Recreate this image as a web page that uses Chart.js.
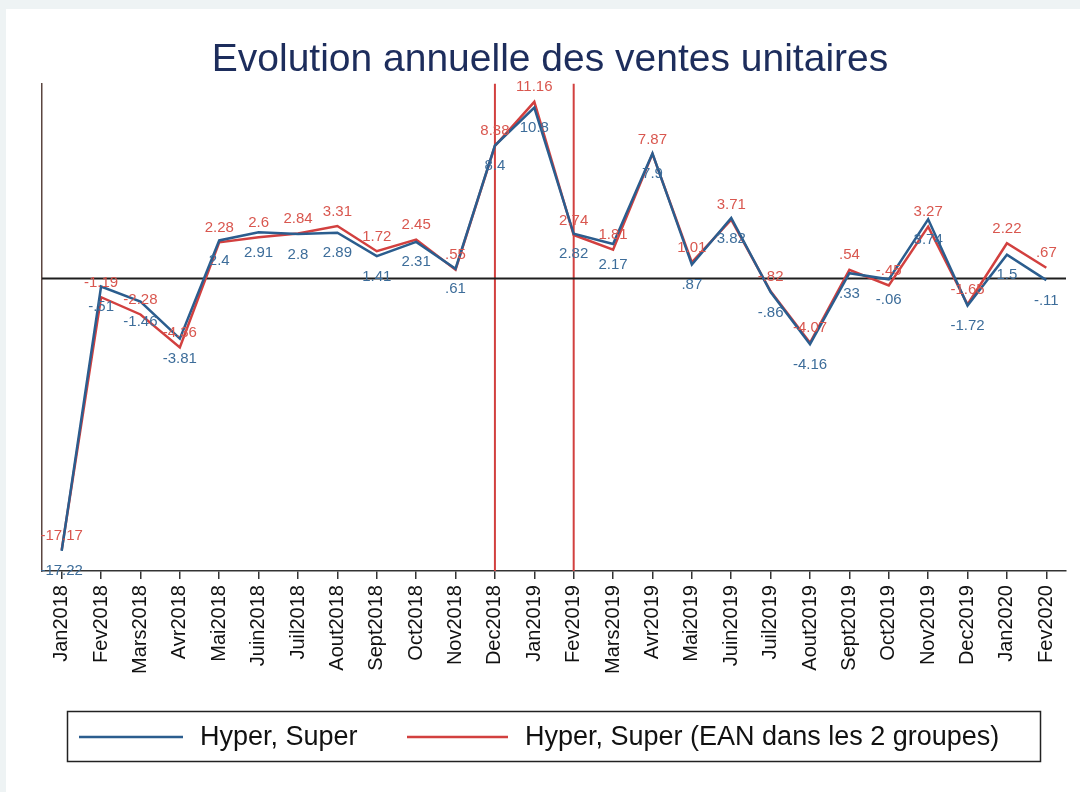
<!DOCTYPE html>
<html>
<head>
<meta charset="utf-8">
<script src="https://cdn.jsdelivr.net/npm/chart.js@4.4.1/dist/chart.umd.min.js"></script>
<style>
  html, body { margin: 0; padding: 0; background: #ffffff; }
  #wrap { width: 1080px; height: 792px; }
</style>
</head>
<body>
<div id="wrap"><canvas id="c" width="1080" height="792"></canvas></div>
<script>
const categories = ["Jan2018","Fev2018","Mars2018","Avr2018","Mai2018","Juin2018","Juil2018","Aout2018","Sept2018","Oct2018","Nov2018","Dec2018","Jan2019","Fev2019","Mars2019","Avr2019","Mai2019","Juin2019","Juil2019","Aout2019","Sept2019","Oct2019","Nov2019","Dec2019","Jan2020","Fev2020"];
const hyperSuper = [-17.22,-0.51,-1.46,-3.81,2.4,2.91,2.8,2.89,1.41,2.31,0.61,8.4,10.8,2.82,2.17,7.9,0.87,3.82,-0.86,-4.16,0.33,-0.06,3.74,-1.72,1.5,-0.11];
const hyperSuperEAN = [-17.17,-1.19,-2.28,-4.36,2.28,2.6,2.84,3.31,1.72,2.45,0.55,8.38,11.16,2.74,1.81,7.87,1.01,3.71,-0.82,-4.07,0.54,-0.45,3.27,-1.65,2.22,0.67];
const seriesNames = ["Hyper, Super", "Hyper, Super (EAN dans les 2 groupes)"];
const markerCategories = ["Dec2018", "Fev2019"];
const zeroValue = 0;

const BLUE = "#2b5d8e";
const RED = "#d2403f";

function fmt(v) {
  let s = String(Math.round(v * 100) / 100);
  s = s.replace(/^0\./, ".").replace(/^-0\./, "-.");
  return s;
}

const bgPlugin = {
  id: "bg",
  beforeDraw(chart) {
    const ctx = chart.ctx;
    ctx.save();
    ctx.fillStyle = "#eef3f4";
    ctx.fillRect(0, 0, chart.width, chart.height);
    ctx.fillStyle = "#ffffff";
    ctx.fillRect(6, 9, chart.width - 6, chart.height - 9);
    ctx.restore();
  }
};

const refLines = {
  id: "refLines",
  beforeDatasetsDraw(chart) {
    const { ctx, chartArea, scales } = chart;
    ctx.save();
    ctx.strokeStyle = RED;
    ctx.lineWidth = 2;
    markerCategories.forEach(cat => {
      const x = scales.x.getPixelForValue(categories.indexOf(cat));
      ctx.beginPath();
      ctx.moveTo(x, chartArea.top);
      ctx.lineTo(x, chartArea.bottom);
      ctx.stroke();
    });
    const y0 = scales.y.getPixelForValue(zeroValue);
    ctx.strokeStyle = "#1e1e1e";
    ctx.lineWidth = 2;
    ctx.beginPath();
    ctx.moveTo(chartArea.left, y0);
    ctx.lineTo(chartArea.right, y0);
    ctx.stroke();
    ctx.restore();
  }
};

const valueLabels = {
  id: "valueLabels",
  afterDatasetsDraw(chart) {
    const ctx = chart.ctx;
    ctx.save();
    ctx.font = "15px 'Liberation Sans', Arial, sans-serif";
    ctx.textAlign = "center";
    chart.data.datasets.forEach((ds, i) => {
      const meta = chart.getDatasetMeta(i);
      meta.data.forEach((pt, j) => {
        const v = ds.data[j];
        if (i === 0) {
          ctx.fillStyle = "#3d6d9a";
          ctx.textBaseline = "top";
          ctx.fillText(fmt(v), pt.x, pt.y + 13);
        } else {
          ctx.fillStyle = "#d9574f";
          ctx.textBaseline = "bottom";
          ctx.fillText(fmt(v), pt.x, pt.y - 7);
        }
      });
    });
    ctx.restore();
  }
};

const boxLegend = {
  id: "boxLegend",
  afterDraw(chart) {
    const ctx = chart.ctx;
    ctx.save();
    ctx.strokeStyle = "#222";
    ctx.lineWidth = 1.5;
    ctx.strokeRect(67.5, 711.5, 973, 50);
    ctx.font = "27px 'Liberation Sans', Arial, sans-serif";
    ctx.textBaseline = "middle";
    ctx.textAlign = "left";
    const items = [
      { x0: 79, x1: 183, tx: 200 },
      { x0: 407, x1: 508, tx: 525 }
    ];
    chart.data.datasets.forEach((ds, i) => {
      const it = items[i];
      ctx.strokeStyle = ds.borderColor;
      ctx.lineWidth = 2.5;
      ctx.beginPath();
      ctx.moveTo(it.x0, 737);
      ctx.lineTo(it.x1, 737);
      ctx.stroke();
      ctx.fillStyle = "#111";
      ctx.fillText(ds.label, it.tx, 738);
    });
    ctx.restore();
  }
};

new Chart(document.getElementById("c"), {
  type: "line",
  data: {
    labels: categories,
    datasets: [
      { label: seriesNames[0], data: hyperSuper, borderColor: BLUE, backgroundColor: BLUE, borderWidth: 2.5, pointRadius: 0, tension: 0 },
      { label: seriesNames[1], data: hyperSuperEAN, borderColor: RED, backgroundColor: RED, borderWidth: 2.5, pointRadius: 0, tension: 0 }
    ]
  },
  options: {
    responsive: false,
    animation: false,
    layout: { padding: { left: 34, right: 14, top: 0, bottom: 112 } },
    plugins: {
      legend: { display: false },
      tooltip: { enabled: false },
      title: {
        display: true,
        text: "Evolution annuelle des ventes unitaires",
        color: "#1d2d5c",
        font: { family: "'Liberation Sans', Arial, sans-serif", size: 39, weight: "normal" },
        padding: { top: 37, bottom: 0 }
      }
    },
    scales: {
      x: {
        offset: true,
        grid: { display: true, drawOnChartArea: false, drawTicks: true, tickLength: 8, color: "#333", lineWidth: 1.5 },
        border: { display: true, color: "#333", width: 1.5 },
        ticks: { color: "#111", maxRotation: 90, minRotation: 90, autoSkip: false, padding: 6,
                 font: { family: "'Liberation Sans', Arial, sans-serif", size: 20 } }
      },
      y: {
        min: -18.5,
        max: 12.3,
        grid: { display: false },
        border: { display: true, color: "#5a4540", width: 1.5 },
        ticks: { display: false }
      }
    }
  },
  plugins: [bgPlugin, refLines, valueLabels, boxLegend]
});
</script>
</body>
</html>
